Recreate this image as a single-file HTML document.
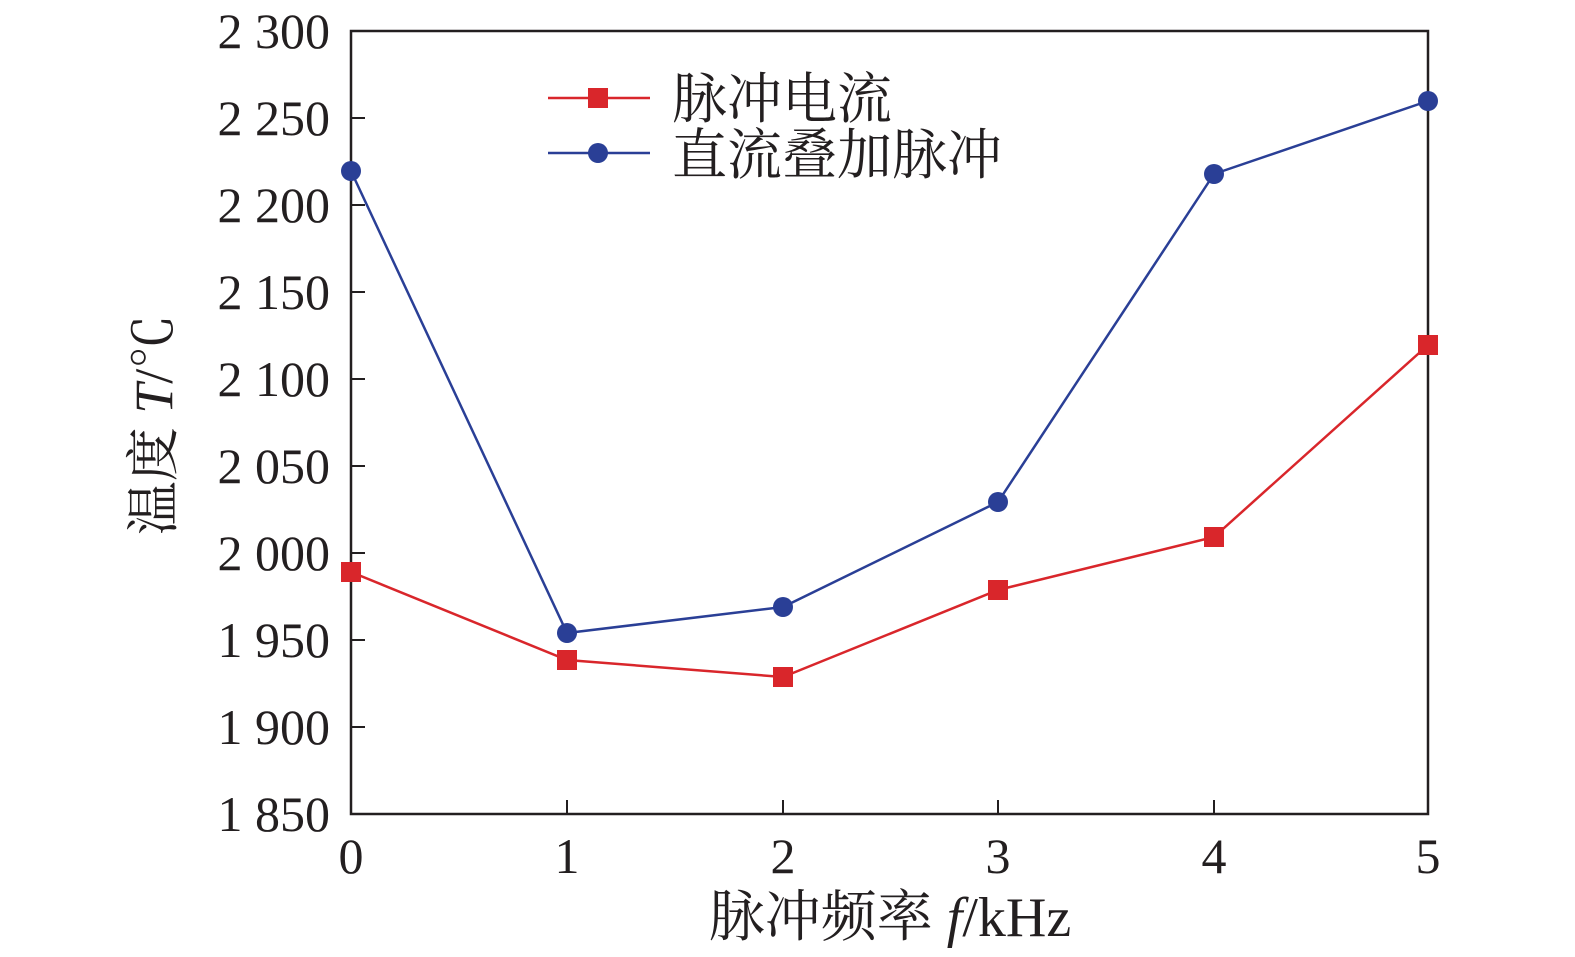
<!DOCTYPE html>
<html><head><meta charset="utf-8"><style>
html,body{margin:0;padding:0;background:#fff;}
svg{display:block;}
text{font-family:"Liberation Serif","Noto Serif CJK SC","Noto Sans CJK SC",serif;fill:#231f20;}
</style></head><body>
<svg width="1575" height="957" viewBox="0 0 1575 957" xmlns="http://www.w3.org/2000/svg">
<rect x="351" y="31" width="1077" height="783" fill="none" stroke="#231f20" stroke-width="2.5"/>
<g stroke="#231f20" stroke-width="2">
<line x1="351" y1="118" x2="365" y2="118"/>
<line x1="351" y1="205" x2="365" y2="205"/>
<line x1="351" y1="292" x2="365" y2="292"/>
<line x1="351" y1="379" x2="365" y2="379"/>
<line x1="351" y1="466" x2="365" y2="466"/>
<line x1="351" y1="553" x2="365" y2="553"/>
<line x1="351" y1="640" x2="365" y2="640"/>
<line x1="351" y1="727" x2="365" y2="727"/>
<line x1="567" y1="814" x2="567" y2="800"/>
<line x1="783" y1="814" x2="783" y2="800"/>
<line x1="998" y1="814" x2="998" y2="800"/>
<line x1="1214" y1="814" x2="1214" y2="800"/>
</g>
<g font-size="50" text-anchor="end">
<text x="330" y="48">2 300</text>
<text x="330" y="135">2 250</text>
<text x="330" y="222">2 200</text>
<text x="330" y="309">2 150</text>
<text x="330" y="396">2 100</text>
<text x="330" y="483">2 050</text>
<text x="330" y="570">2 000</text>
<text x="330" y="657">1 950</text>
<text x="330" y="744">1 900</text>
<text x="330" y="831">1 850</text>
</g>
<g font-size="50" text-anchor="middle">
<text x="351" y="873">0</text>
<text x="567" y="873">1</text>
<text x="783" y="873">2</text>
<text x="998" y="873">3</text>
<text x="1214" y="873">4</text>
<text x="1428" y="873">5</text>
</g>
<text x="890" y="936" font-size="56" text-anchor="middle">脉冲频率 <tspan font-style="italic">f</tspan>/kHz</text>
<text transform="translate(172,425) rotate(-90)" font-size="54" text-anchor="middle">温度 <tspan font-style="italic">T</tspan>/℃</text>
<polyline points="351,572 567,660 783,677 998,590 1214,537 1428,345" fill="none" stroke="#d9262b" stroke-width="2.5"/>
<g fill="#d9262b">
<rect x="341" y="562" width="20" height="20"/><rect x="557" y="650" width="20" height="20"/>
<rect x="773" y="667" width="20" height="20"/><rect x="988" y="580" width="20" height="20"/>
<rect x="1204" y="527" width="20" height="20"/><rect x="1418" y="335" width="20" height="20"/>
</g>
<polyline points="351,171 567,633 783,607 998,502 1214,174 1428,101" fill="none" stroke="#2a3f96" stroke-width="2.5"/>
<g fill="#2a3f96">
<circle cx="351" cy="171" r="10"/><circle cx="567" cy="633" r="10"/><circle cx="783" cy="607" r="10"/>
<circle cx="998" cy="502" r="10"/><circle cx="1214" cy="174" r="10"/><circle cx="1428" cy="101" r="10"/>
</g>
<line x1="548" y1="98" x2="650" y2="98" stroke="#d9262b" stroke-width="2.5"/>
<rect x="588" y="88" width="20" height="20" fill="#d9262b"/>
<line x1="548" y1="153" x2="650" y2="153" stroke="#2a3f96" stroke-width="2.5"/>
<circle cx="598" cy="153" r="10" fill="#2a3f96"/>
<text x="672" y="118" font-size="55">脉冲电流</text>
<text x="672" y="174" font-size="55">直流叠加脉冲</text>
</svg>
</body></html>
